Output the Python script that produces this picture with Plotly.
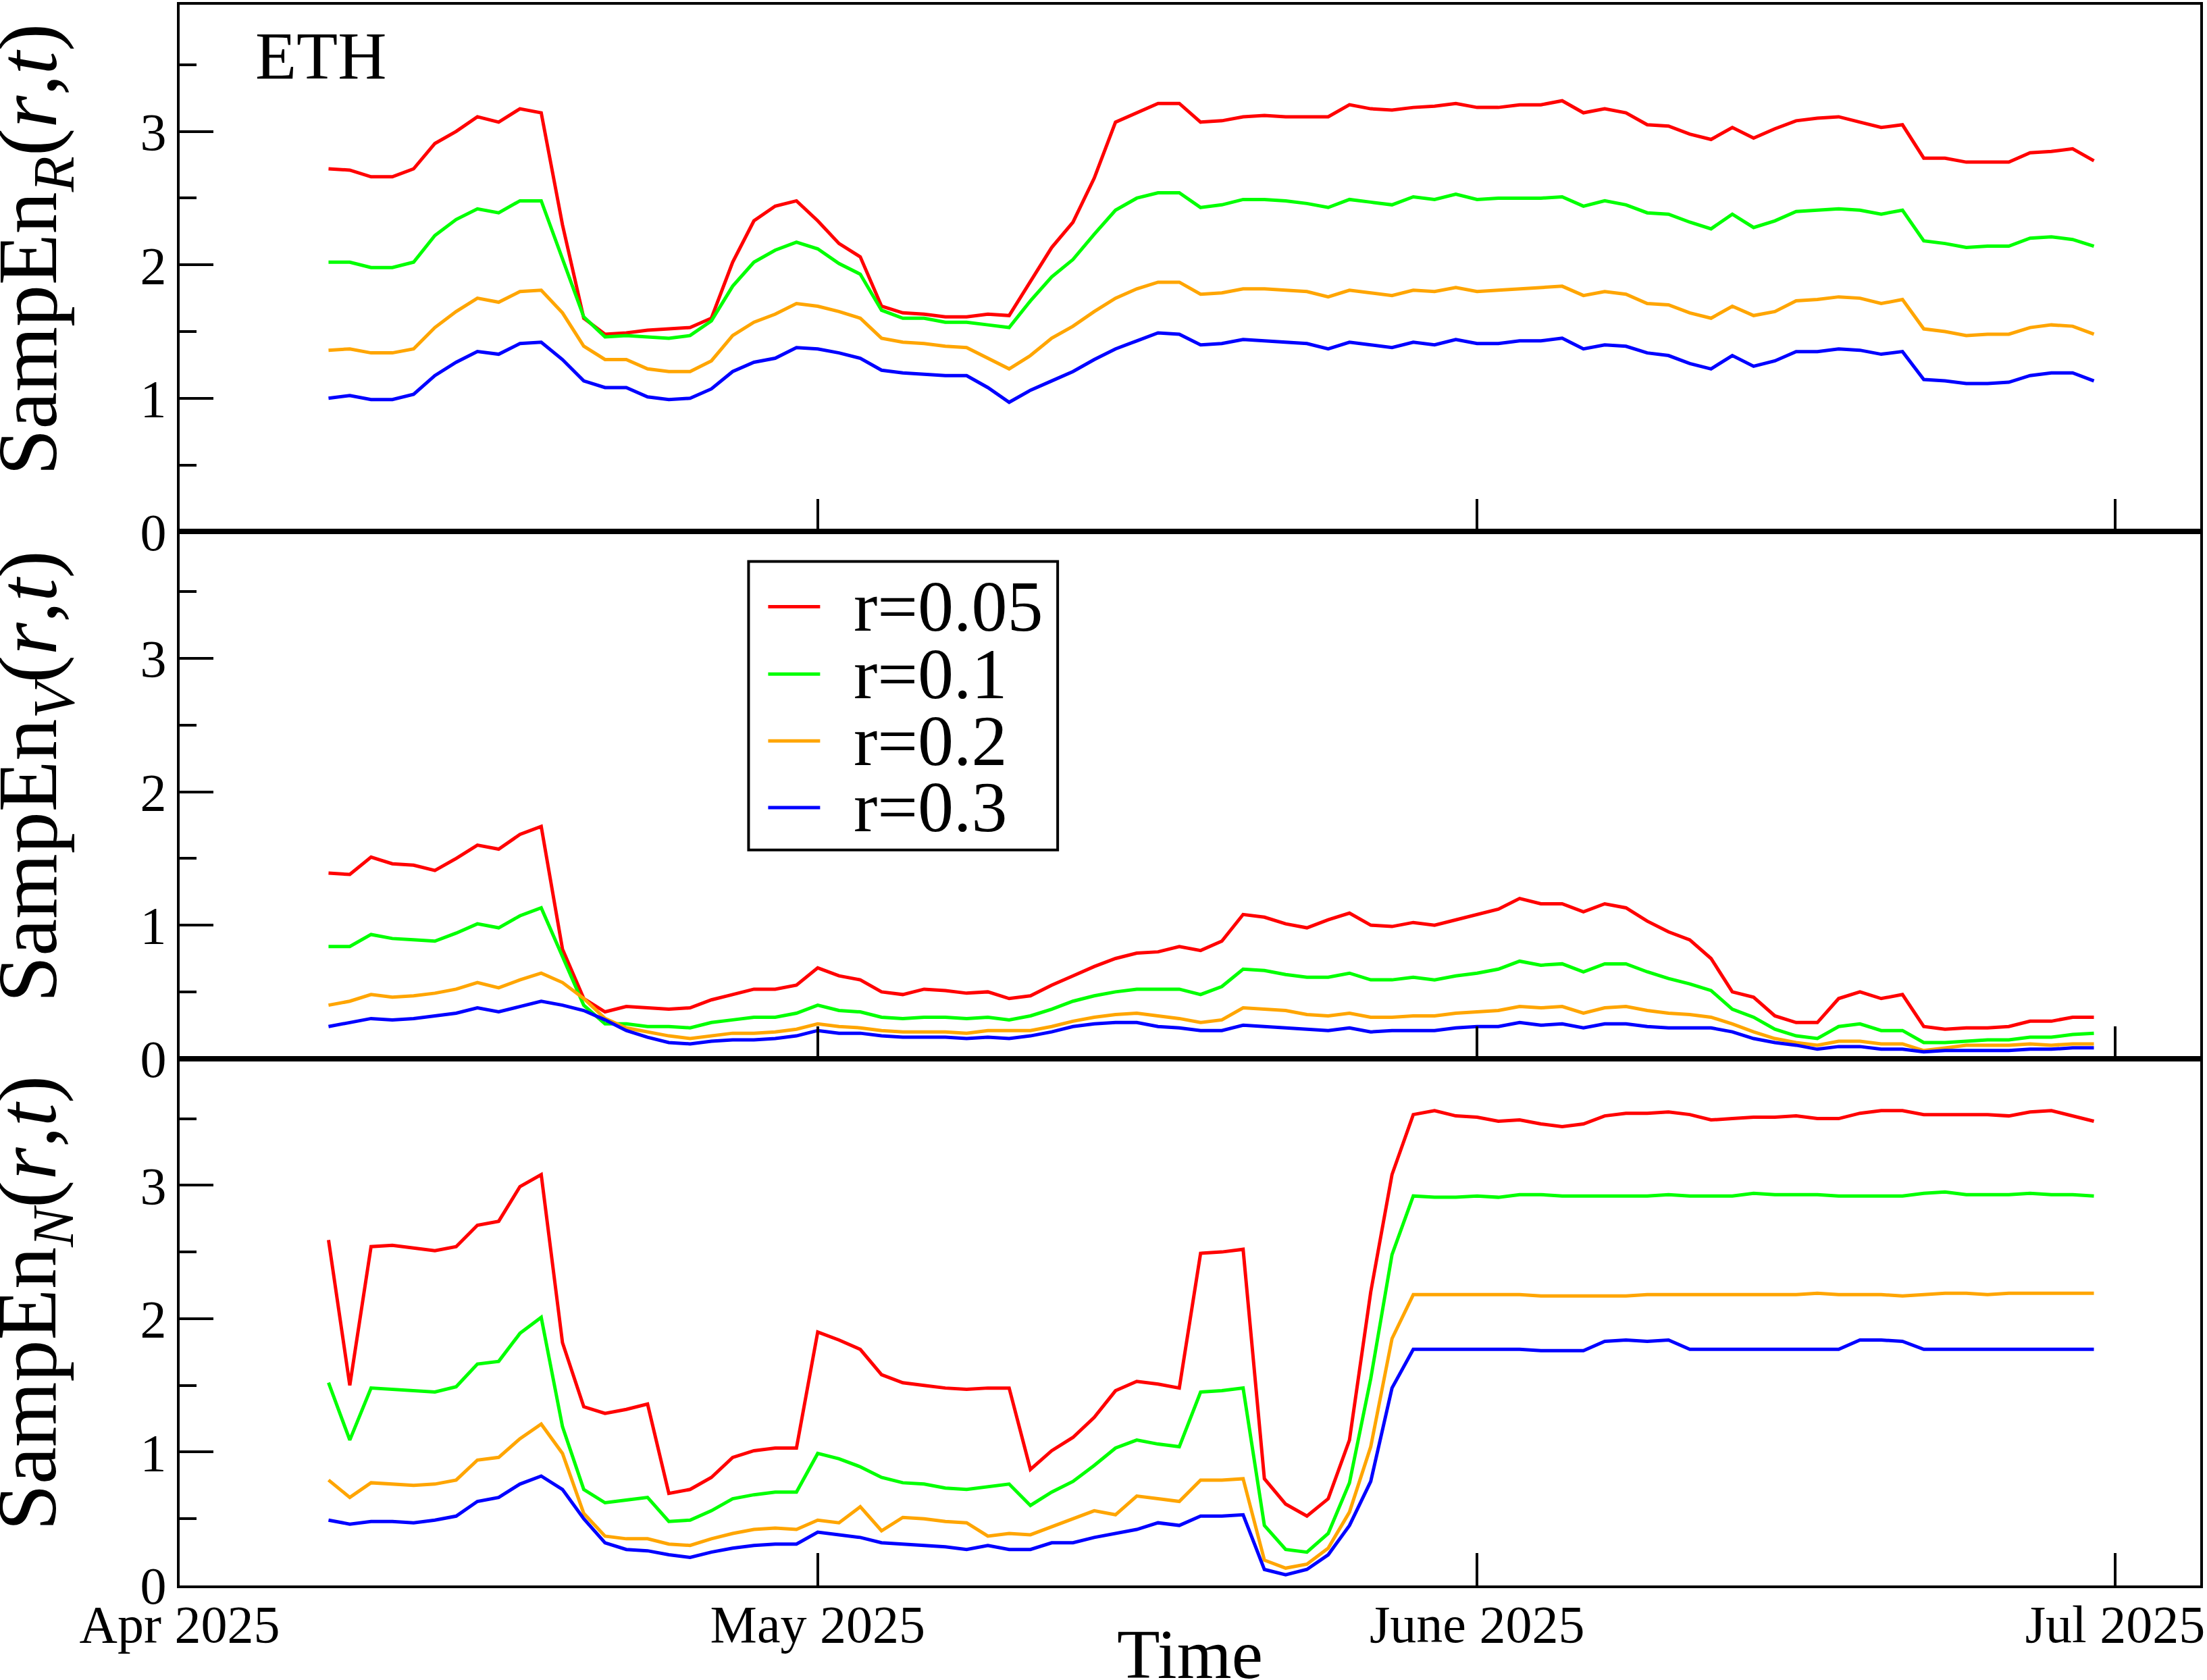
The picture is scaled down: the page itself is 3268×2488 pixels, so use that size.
import pandas as pd
import plotly.graph_objects as go
from plotly.subplots import make_subplots

# ---------------- data ----------------
DATES = pd.date_range("2025-04-08", "2025-06-30", freq="D")  # 84 daily points
RADII = ["r=0.05", "r=0.1", "r=0.2", "r=0.3"]
COLORS = ["#ff0000", "#00ff00", "#ffa500", "#0000ff"]
X_TICKS = ["2025-04-01", "2025-05-01", "2025-06-01", "2025-07-01"]
X_TICKTEXT = ["Apr 2025", "May 2025", "June 2025", "Jul 2025"]
Y_TICKS = [0, 1, 2, 3]
Y_MINOR = [0.5, 1.5, 2.5, 3.5]

# SampEn of returns (R)
R_R005 = [2.72, 2.71, 2.66, 2.66, 2.72, 2.91, 3.00, 3.11, 3.07, 3.17, 3.14,
          2.30, 1.60, 1.48, 1.49, 1.51, 1.52, 1.53, 1.60, 2.02, 2.33, 2.44,
          2.48, 2.33, 2.16, 2.06, 1.69, 1.64, 1.63, 1.61, 1.61, 1.63, 1.62,
          1.88, 2.13, 2.32, 2.65, 3.07, 3.14, 3.21, 3.21, 3.07, 3.08, 3.11,
          3.12, 3.11, 3.11, 3.11, 3.20, 3.17, 3.16, 3.18, 3.19, 3.21, 3.18,
          3.18, 3.20, 3.20, 3.23, 3.14, 3.17, 3.14, 3.05, 3.04, 2.98, 2.94,
          3.03, 2.95, 3.02, 3.08, 3.10, 3.11, 3.07, 3.03, 3.05, 2.80, 2.80,
          2.77, 2.77, 2.77, 2.84, 2.85, 2.87, 2.78]
R_R01 = [2.02, 2.02, 1.98, 1.98, 2.02, 2.22, 2.34, 2.42, 2.39, 2.48, 2.48,
         2.05, 1.61, 1.46, 1.47, 1.46, 1.45, 1.47, 1.58, 1.84, 2.02, 2.11,
         2.17, 2.12, 2.01, 1.93, 1.66, 1.60, 1.60, 1.57, 1.57, 1.55, 1.53,
         1.73, 1.91, 2.04, 2.23, 2.41, 2.50, 2.54, 2.54, 2.43, 2.45, 2.49,
         2.49, 2.48, 2.46, 2.43, 2.49, 2.47, 2.45, 2.51, 2.49, 2.53, 2.49,
         2.50, 2.50, 2.50, 2.51, 2.44, 2.48, 2.45, 2.39, 2.38, 2.32, 2.27,
         2.38, 2.28, 2.33, 2.40, 2.41, 2.42, 2.41, 2.38, 2.41, 2.18, 2.16,
         2.13, 2.14, 2.14, 2.20, 2.21, 2.19, 2.14]
R_R02 = [1.36, 1.37, 1.34, 1.34, 1.37, 1.53, 1.65, 1.75, 1.72, 1.80, 1.81,
         1.64, 1.39, 1.29, 1.29, 1.22, 1.20, 1.20, 1.28, 1.47, 1.57, 1.63,
         1.71, 1.69, 1.65, 1.60, 1.45, 1.42, 1.41, 1.39, 1.38, 1.30, 1.22,
         1.32, 1.45, 1.54, 1.65, 1.75, 1.82, 1.87, 1.87, 1.78, 1.79, 1.82,
         1.82, 1.81, 1.80, 1.76, 1.81, 1.79, 1.77, 1.81, 1.80, 1.83, 1.80,
         1.81, 1.82, 1.83, 1.84, 1.77, 1.80, 1.78, 1.71, 1.70, 1.64, 1.60,
         1.69, 1.62, 1.65, 1.73, 1.74, 1.76, 1.75, 1.71, 1.74, 1.52, 1.50,
         1.47, 1.48, 1.48, 1.53, 1.55, 1.54, 1.48]
R_R03 = [1.00, 1.02, 0.99, 0.99, 1.03, 1.17, 1.27, 1.35, 1.33, 1.41, 1.42,
         1.29, 1.13, 1.08, 1.08, 1.01, 0.99, 1.00, 1.07, 1.20, 1.27, 1.30,
         1.38, 1.37, 1.34, 1.30, 1.21, 1.19, 1.18, 1.17, 1.17, 1.08, 0.97,
         1.06, 1.13, 1.20, 1.29, 1.37, 1.43, 1.49, 1.48, 1.40, 1.41, 1.44,
         1.43, 1.42, 1.41, 1.37, 1.42, 1.40, 1.38, 1.42, 1.40, 1.44, 1.41,
         1.41, 1.43, 1.43, 1.45, 1.37, 1.40, 1.39, 1.34, 1.32, 1.26, 1.22,
         1.32, 1.24, 1.28, 1.35, 1.35, 1.37, 1.36, 1.33, 1.35, 1.14, 1.13,
         1.11, 1.11, 1.12, 1.17, 1.19, 1.19, 1.13]

# SampEn of volume (V)
V_R005 = [1.39, 1.38, 1.51, 1.46, 1.45, 1.41, 1.50, 1.60, 1.57, 1.68, 1.74,
          0.82, 0.45, 0.35, 0.39, 0.38, 0.37, 0.38, 0.44, 0.48, 0.52, 0.52,
          0.55, 0.68, 0.62, 0.59, 0.50, 0.48, 0.52, 0.51, 0.49, 0.50, 0.45,
          0.47, 0.55, 0.62, 0.69, 0.75, 0.79, 0.80, 0.84, 0.81, 0.88, 1.08,
          1.06, 1.01, 0.98, 1.04, 1.09, 1.00, 0.99, 1.02, 1.00, 1.04, 1.08,
          1.12, 1.20, 1.16, 1.16, 1.10, 1.16, 1.13, 1.03, 0.95, 0.89, 0.75,
          0.50, 0.46, 0.32, 0.27, 0.27, 0.45, 0.50, 0.45, 0.48, 0.24, 0.22,
          0.23, 0.23, 0.24, 0.28, 0.28, 0.31, 0.31]
V_R01 = [0.84, 0.84, 0.93, 0.90, 0.89, 0.88, 0.94, 1.01, 0.98, 1.07, 1.13,
         0.77, 0.40, 0.26, 0.26, 0.24, 0.24, 0.23, 0.27, 0.29, 0.31, 0.31,
         0.34, 0.40, 0.36, 0.35, 0.31, 0.30, 0.31, 0.31, 0.30, 0.31, 0.29,
         0.32, 0.37, 0.43, 0.47, 0.50, 0.52, 0.52, 0.52, 0.48, 0.54, 0.67,
         0.66, 0.63, 0.61, 0.61, 0.64, 0.59, 0.59, 0.61, 0.59, 0.62, 0.64,
         0.67, 0.73, 0.70, 0.71, 0.65, 0.71, 0.71, 0.65, 0.60, 0.56, 0.51,
         0.37, 0.31, 0.22, 0.17, 0.15, 0.24, 0.26, 0.21, 0.21, 0.12, 0.12,
         0.13, 0.14, 0.14, 0.16, 0.16, 0.18, 0.19]
V_R02 = [0.40, 0.43, 0.48, 0.46, 0.47, 0.49, 0.52, 0.57, 0.53, 0.59, 0.64,
         0.57, 0.45, 0.30, 0.23, 0.20, 0.17, 0.15, 0.17, 0.19, 0.19, 0.20,
         0.22, 0.26, 0.24, 0.23, 0.21, 0.20, 0.20, 0.20, 0.19, 0.21, 0.21,
         0.21, 0.24, 0.28, 0.31, 0.33, 0.34, 0.32, 0.30, 0.27, 0.29, 0.38,
         0.37, 0.36, 0.33, 0.32, 0.34, 0.31, 0.31, 0.32, 0.32, 0.34, 0.35,
         0.36, 0.39, 0.38, 0.39, 0.34, 0.38, 0.39, 0.36, 0.34, 0.33, 0.31,
         0.26, 0.20, 0.15, 0.12, 0.10, 0.13, 0.13, 0.11, 0.11, 0.06, 0.08,
         0.10, 0.10, 0.10, 0.11, 0.10, 0.11, 0.11]
V_R03 = [0.24, 0.27, 0.30, 0.29, 0.30, 0.32, 0.34, 0.38, 0.35, 0.39, 0.43,
         0.40, 0.36, 0.29, 0.21, 0.16, 0.12, 0.11, 0.13, 0.14, 0.14, 0.15,
         0.17, 0.21, 0.19, 0.19, 0.17, 0.16, 0.16, 0.16, 0.15, 0.16, 0.15,
         0.17, 0.20, 0.24, 0.26, 0.27, 0.27, 0.24, 0.23, 0.21, 0.21, 0.25,
         0.24, 0.23, 0.22, 0.21, 0.23, 0.20, 0.21, 0.21, 0.21, 0.23, 0.24,
         0.24, 0.27, 0.25, 0.26, 0.23, 0.26, 0.26, 0.24, 0.23, 0.23, 0.23,
         0.20, 0.15, 0.12, 0.10, 0.07, 0.09, 0.09, 0.07, 0.07, 0.05, 0.06,
         0.06, 0.06, 0.06, 0.07, 0.07, 0.08, 0.08]

# SampEn of number of trades (N)
N_R005 = [2.59, 1.50, 2.54, 2.55, 2.53, 2.51, 2.54, 2.70, 2.73, 2.99, 3.08,
          1.82, 1.34, 1.29, 1.32, 1.36, 0.69, 0.72, 0.81, 0.96, 1.01, 1.03,
          1.03, 1.90, 1.84, 1.77, 1.58, 1.52, 1.50, 1.48, 1.47, 1.48, 1.48,
          0.87, 1.01, 1.11, 1.26, 1.46, 1.53, 1.51, 1.48, 2.49, 2.50, 2.52,
          0.80, 0.61, 0.52, 0.65, 1.09, 2.20, 3.08, 3.53, 3.56, 3.52, 3.51,
          3.48, 3.49, 3.46, 3.44, 3.46, 3.52, 3.54, 3.54, 3.55, 3.53, 3.49,
          3.50, 3.51, 3.51, 3.52, 3.50, 3.50, 3.54, 3.56, 3.56, 3.53, 3.53,
          3.53, 3.53, 3.52, 3.55, 3.56, 3.52, 3.48]
N_R01 = [1.52, 1.09, 1.48, 1.47, 1.46, 1.45, 1.49, 1.66, 1.68, 1.89, 2.01,
         1.19, 0.72, 0.62, 0.64, 0.66, 0.48, 0.49, 0.56, 0.65, 0.68, 0.70,
         0.70, 0.99, 0.95, 0.89, 0.81, 0.77, 0.76, 0.73, 0.72, 0.74, 0.76,
         0.60, 0.70, 0.78, 0.90, 1.03, 1.09, 1.06, 1.04, 1.45, 1.46, 1.48,
         0.45, 0.27, 0.25, 0.39, 0.77, 1.55, 2.48, 2.92, 2.91, 2.91, 2.92,
         2.91, 2.93, 2.93, 2.92, 2.92, 2.92, 2.92, 2.92, 2.93, 2.92, 2.92,
         2.92, 2.94, 2.93, 2.93, 2.93, 2.92, 2.92, 2.92, 2.92, 2.94, 2.95,
         2.93, 2.93, 2.93, 2.94, 2.93, 2.93, 2.92]
N_R02 = [0.79, 0.66, 0.77, 0.76, 0.75, 0.76, 0.79, 0.94, 0.96, 1.10, 1.21,
         0.99, 0.54, 0.37, 0.35, 0.35, 0.31, 0.30, 0.35, 0.39, 0.42, 0.43,
         0.42, 0.49, 0.47, 0.59, 0.41, 0.51, 0.50, 0.48, 0.47, 0.37, 0.39,
         0.38, 0.44, 0.50, 0.56, 0.53, 0.67, 0.65, 0.63, 0.79, 0.79, 0.80,
         0.19, 0.13, 0.16, 0.28, 0.55, 1.04, 1.85, 2.18, 2.18, 2.18, 2.18,
         2.18, 2.18, 2.17, 2.17, 2.17, 2.17, 2.17, 2.18, 2.18, 2.18, 2.18,
         2.18, 2.18, 2.18, 2.18, 2.19, 2.18, 2.18, 2.18, 2.17, 2.18, 2.19,
         2.19, 2.18, 2.19, 2.19, 2.19, 2.19, 2.19]
N_R03 = [0.49, 0.46, 0.48, 0.48, 0.47, 0.49, 0.52, 0.63, 0.66, 0.76, 0.82,
         0.72, 0.50, 0.32, 0.27, 0.26, 0.23, 0.21, 0.25, 0.28, 0.30, 0.31,
         0.31, 0.40, 0.38, 0.36, 0.32, 0.31, 0.30, 0.29, 0.27, 0.30, 0.27,
         0.27, 0.32, 0.32, 0.36, 0.39, 0.42, 0.47, 0.45, 0.52, 0.52, 0.53,
         0.12, 0.08, 0.12, 0.23, 0.45, 0.78, 1.48, 1.77, 1.77, 1.77, 1.77,
         1.77, 1.77, 1.76, 1.76, 1.76, 1.83, 1.84, 1.83, 1.84, 1.77, 1.77,
         1.77, 1.77, 1.77, 1.77, 1.77, 1.77, 1.84, 1.84, 1.83, 1.77, 1.77,
         1.77, 1.77, 1.77, 1.77, 1.77, 1.77, 1.77]

PANELS = [
    ("R", [R_R005, R_R01, R_R02, R_R03]),
    ("V", [V_R005, V_R01, V_R02, V_R03]),
    ("N", [N_R005, N_R01, N_R02, N_R03]),
]

# ---------------- layout geometry (pixels) ----------------
W, H = 3268, 2488
ML, MR, MT, MB = 266, 8, 3, 140
PW, PH = W - ML - MR, H - MT - MB
FONT = "Liberation Serif, Times New Roman, serif"


def px(x):
    return (x - ML) / PW


def py(y):
    return 1 - (y - MT) / PH


fig = make_subplots(rows=3, cols=1, shared_xaxes=True, vertical_spacing=0)

for row, (sub, series) in enumerate(PANELS, start=1):
    for name, color, vals in zip(RADII, COLORS, series):
        fig.add_trace(
            go.Scatter(x=DATES, y=vals, mode="lines", name=name,
                       line=dict(color=color, width=5), showlegend=False),
            row=row, col=1)
    fig.update_yaxes(
        range=[0, 3.95], tickvals=Y_TICKS, ticks="inside", ticklen=50,
        tickwidth=4, tickcolor="black", showline=True, linewidth=4,
        linecolor="black", mirror=True, showgrid=False, zeroline=False,
        tickfont=dict(family=FONT, size=78, color="black"),
        minor=dict(tickvals=Y_MINOR, ticks="inside", ticklen=25, tickwidth=4,
                   tickcolor="black", showgrid=False),
        row=row, col=1)
    fig.update_xaxes(
        type="date", range=["2025-04-01", "2025-07-05"],
        tickvals=X_TICKS, ticktext=X_TICKTEXT, ticks="inside", ticklen=48,
        tickwidth=4, tickcolor="black", showline=True, linewidth=4,
        linecolor="black", mirror=True, showgrid=False, zeroline=False,
        showticklabels=(row == 3), ticklabeloverflow="allow",
        ticklabelstandoff=-14,
        tickfont=dict(family=FONT, size=78, color="black"),
        row=row, col=1)

annotations = []
# y-axis titles
PANEL_H = PH / 3
for k, (sub, _) in enumerate(PANELS):
    yc_px = MT + (k + 0.5) * PANEL_H - 28
    annotations.append(dict(
        text=f"SampEn<sub><i>{sub}</i></sub>(<i>r</i>,<i>t</i>)",
        xref="paper", yref="paper", x=px(50), y=py(yc_px), xanchor="center",
        yanchor="middle", textangle=-90, showarrow=False,
        font=dict(family=FONT, size=124, color="black")))
# x title
annotations.append(dict(
    text="Time", xref="paper", yref="paper", x=0.5, y=py(2450),
    xanchor="center", yanchor="middle", showarrow=False,
    font=dict(family=FONT, size=104, color="black")))
# panel label
annotations.append(dict(
    text="ETH", xref="paper", yref="paper", x=px(376), y=py(79),
    xanchor="left", yanchor="middle", showarrow=False,
    font=dict(family=FONT, size=100, color="black")))

# legend box (drawn manually to match the compact layout)
shapes = [dict(type="rect", xref="paper", yref="paper",
               x0=px(1109), x1=px(1567), y0=py(1257), y1=py(829),
               line=dict(color="black", width=4), fillcolor="white",
               layer="above")]
LEG_ROWS = [896, 996, 1095, 1194]
for name, color, yy in zip(RADII, COLORS, LEG_ROWS):
    shapes.append(dict(type="line", xref="paper", yref="paper",
                       x0=px(1138), x1=px(1215), y0=py(yy), y1=py(yy),
                       line=dict(color=color, width=5), layer="above"))
    annotations.append(dict(
        text=name, xref="paper", yref="paper", x=px(1263), y=py(yy),
        xanchor="left", yanchor="middle", showarrow=False,
        font=dict(family=FONT, size=106, color="black")))

fig.update_layout(
    width=W, height=H, autosize=False,
    margin=dict(l=ML, r=MR, t=MT, b=MB, pad=0),
    paper_bgcolor="white", plot_bgcolor="white",
    showlegend=False, annotations=annotations, shapes=shapes,
    font=dict(family=FONT, color="black"),
)

fig.write_html("out.html")
